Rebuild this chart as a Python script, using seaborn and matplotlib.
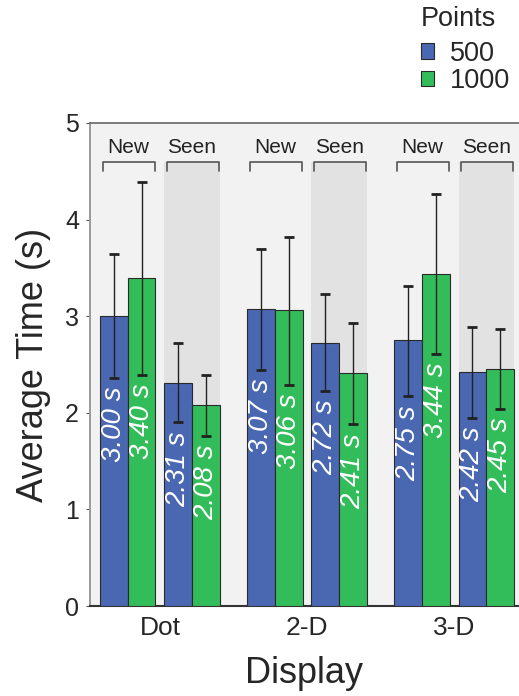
import numpy as np
import pandas as pd
import matplotlib
matplotlib.use("Agg")
import matplotlib.pyplot as plt
import seaborn as sns

# values (order: Dot New, Dot Seen, 2-D New, 2-D Seen, 3-D New, 3-D Seen)
displays = ["Dot", "2-D", "3-D"]
conditions = ["New", "Seen"]
points = ["500", "1000"]

time_500 = [3.00, 2.31, 3.07, 2.72, 2.75, 2.42]
lo_500 = [2.36, 1.90, 2.44, 2.23, 2.17, 1.95]
hi_500 = [3.64, 2.72, 3.70, 3.23, 3.31, 2.89]

time_1000 = [3.40, 2.08, 3.06, 2.41, 3.44, 2.45]
lo_1000 = [2.39, 1.76, 2.29, 1.88, 2.61, 2.04]
hi_1000 = [4.39, 2.39, 3.82, 2.93, 4.27, 2.87]

blue = "#4a67b2"
green = "#33bd5a"
pair_offset = 0.218
bar_width = 0.86

# long table for seaborn
rows = []
for p, t, lo, hi in [("500", time_500, lo_500, hi_500), ("1000", time_1000, lo_1000, hi_1000)]:
    k = 0
    for di, d in enumerate(displays):
        for c in conditions:
            pos = di + (-pair_offset if c == "New" else pair_offset)
            rows.append(dict(display=d, condition=c, pos=pos, Points=p,
                             time=t[k], lo=lo[k], hi=hi[k]))
            k += 1
df = pd.DataFrame(rows)

sns.set_style("white")
plt.rcParams["font.family"] = ["Liberation Sans", "DejaVu Sans"]

fig = plt.figure(figsize=(5.19, 6.96), dpi=100)
ax = fig.add_axes([0.1734, 0.1293, 0.8266, 0.694])
ax.set_facecolor("#f2f2f2")

sns.barplot(data=df, x="pos", y="time", hue="Points", hue_order=points,
            native_scale=True, palette=[blue, green], saturation=1,
            width=bar_width, errorbar=None, edgecolor="#2a2a2a",
            linewidth=0.8, ax=ax, zorder=3)

# error bars + value labels, placed on the bars seaborn drew
half_pair = 0.0
for cont, p in zip(ax.containers, points):
    sub = df[df.Points == p]
    for patch in cont.patches:
        cx = patch.get_x() + patch.get_width() / 2
        half_pair = patch.get_width()
        row = sub.iloc[np.argmin(np.abs(sub.pos.values - cx))]
        ax.errorbar(cx, row.time, yerr=[[row.time - row.lo], [row.hi - row.time]],
                    fmt="none", ecolor="#222222", elinewidth=1.0, capsize=3.5,
                    capthick=2, zorder=4)
        ax.text(cx, row.lo - 0.09, f"{row.time:.2f} s", rotation=90,
                ha="center", va="top", color="white", style="italic",
                fontsize=20, zorder=5)

# shaded "Seen" bands and New/Seen brackets
for di, d in enumerate(displays):
    for c in conditions:
        pos = di + (-pair_offset if c == "New" else pair_offset)
        x0, x1 = pos - half_pair, pos + half_pair
        if c == "Seen":
            ax.fill_between([x0, x1], 0, 4.6, color="#e2e2e2", zorder=1, linewidth=0)
        ax.plot([x0 + 0.02, x0 + 0.02, x1 - 0.005, x1 - 0.005], [4.5, 4.6, 4.6, 4.5],
                color="#555555", lw=1.2, zorder=2)
        ax.text(pos, 4.65, c, ha="center", va="bottom", fontsize=15, color="#222222")

ax.set_xlim(-0.476, 2.442)
ax.set_ylim(0, 5)
ax.set_yticks([0, 1, 2, 3, 4, 5])
ax.set_xticks([0, 1, 2], displays)
ax.tick_params(axis="y", labelsize=18, length=3, color="#555555", pad=5, left=True)
ax.tick_params(axis="x", labelsize=19, length=0, pad=7)

ax.set_ylabel("Average Time (s)", fontsize=26, labelpad=10)
ax.set_xlabel("Display", fontsize=26, labelpad=12)

for side in ["left", "top", "bottom", "right"]:
    ax.spines[side].set_visible(True)
ax.spines["right"].set_visible(False)
ax.spines["left"].set_color("#999999")
ax.spines["left"].set_linewidth(1.4)
ax.spines["top"].set_color("#666666")
ax.spines["top"].set_linewidth(1.2)
ax.spines["bottom"].set_color("#333333")
ax.spines["bottom"].set_linewidth(1.5)

sns.move_legend(ax, "upper left", bbox_to_anchor=(0.805, 0.995),
                bbox_transform=fig.transFigure, frameon=False,
                alignment="left", handlelength=0.5, handleheight=0.5,
                fontsize=19.5, title_fontsize=19.5, handletextpad=0.6,
                labelspacing=0.05, borderaxespad=0, borderpad=0.1)
leg = ax.get_legend()
leg._legend_box.sep = 6

fig.savefig("out.png", dpi=100)
